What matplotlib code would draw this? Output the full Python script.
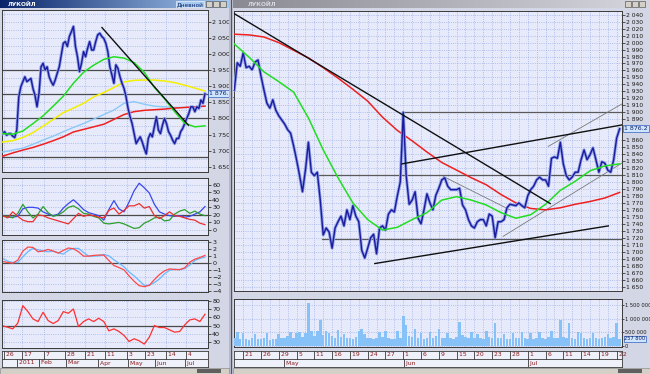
import numpy as np
import matplotlib.pyplot as plt
from matplotlib.patches import Rectangle
from matplotlib.colors import LinearSegmentedColormap
from matplotlib.ticker import FuncFormatter, MultipleLocator, FixedLocator
import matplotlib.transforms as mtransforms

W, H = 650, 374

# ---------------- daily window (left), x = bar index ----------------
left_close = [
    1753, 1759, 1748, 1753, 1753, 1745, 1741, 1764, 1867, 1898,
    1914, 1929, 1914, 1919, 1924, 1893, 1872, 1836, 1878, 1960,
    1971, 1950, 1960, 1929, 1914, 1903, 1919, 1940, 1960, 1997,
    2033, 2038, 2023, 2054, 2069, 2085, 2023, 1991, 1945, 1971,
    2007, 1991, 2017, 2038, 2012, 2012, 2038, 2059, 2064, 2054,
    2048, 2033, 2007, 1960, 1935, 1909, 1966, 1955, 1929, 1909,
    1893, 1867, 1831, 1805, 1784, 1753, 1722, 1733, 1743, 1727,
    1707, 1690, 1738, 1753, 1743, 1774, 1805, 1764, 1753, 1779,
    1800, 1784, 1759, 1748, 1733, 1722, 1738, 1738, 1759, 1769,
    1784, 1800, 1815, 1836, 1836, 1821, 1836, 1831, 1857, 1847,
    1876.2]
left_ma_x = np.arange(0, 101, 5)
left_green = [1753, 1751, 1761, 1784, 1808, 1838, 1869, 1909, 1943, 1965, 1983,
              1991, 1987, 1973, 1943, 1896, 1861, 1821, 1785, 1774, 1777]
left_yellow = [1727, 1731, 1741, 1756, 1776, 1797, 1818, 1832, 1847, 1867, 1880,
               1896, 1913, 1918, 1919, 1919, 1916, 1911, 1903, 1894, 1885]
left_lblue = [1696, 1702, 1708, 1720, 1733, 1745, 1759, 1772, 1784, 1798, 1812,
              1826, 1847, 1852, 1844, 1838, 1836, 1834, 1834, 1836, 1838]
left_red = [1683, 1693, 1702, 1710, 1720, 1731, 1743, 1758, 1766, 1774, 1782,
            1797, 1812, 1821, 1825, 1827, 1829, 1832, 1834, 1836, 1838]
left_trend_x = [49.1, 91.8]
left_trend_y = [2081.5, 1779.2]
left_levels = [1950, 1876.2, 1800, 1681]
left_ticks = [0.6, 9.7, 20.7, 31.0, 40.9, 50.7, 61.4, 70.4, 80.8, 90.6]
left_tick_labels = ["26", "17", "7", "28", "21", "11", "3", "23", "14", "4"]
left_months = [7.2, 17.9, 31.5, 47.1, 62.2, 75.4, 90.1]
left_month_labels = ["2011", "Feb", "Mar", "Apr", "May", "Jun", "Jul"]

ind_x = np.linspace(0, 100, 41)
adx_blue = [19, 17, 17, 18, 28, 30, 30, 29, 24, 21, 19, 21, 29, 35, 40, 34, 27, 23, 21, 19,
            13, 27, 39, 28, 24, 37, 52, 62, 56, 49, 34, 24, 21, 19, 18, 19, 17, 18, 21, 24, 31]
adx_red = [19, 16, 24, 18, 13, 11, 11, 20, 19, 16, 14, 12, 10, 8, 15, 22, 18, 20, 19, 17,
           16, 26, 29, 21, 26, 32, 32, 35, 29, 31, 19, 15, 19, 24, 19, 18, 16, 14, 13, 9, 7]
adx_green = [18, 18, 16, 22, 34, 24, 16, 21, 31, 23, 18, 20, 24, 30, 32, 28, 22, 21, 18, 16,
             9, 8, 9, 10, 8, 5, 2, 3, 9, 12, 16, 17, 12, 13, 21, 25, 27, 22, 25, 21, 19]
macd_line = [0.19, 0.05, -0.05, 0.38, 1.67, 2.24, 2.19, 1.57, 1.67, 1.90,
             1.67, 1.38, 1.76, 2.10, 2.00, 1.57, 0.95, 0.95, 1.05, 1.10,
             1.10, 0.33, -0.38, -0.67, -1.00, -1.86, -2.62, -3.24, -3.38, -3.19,
             -2.38, -1.67, -1.14, -0.86, -0.95, -0.95, -0.71, 0.10, 0.52, 0.76, 1.05]
macd_signal = [0.62, 0.24, 0.05, 0.05, 0.86, 1.57, 2.05, 1.86, 1.67, 1.57,
               1.67, 1.43, 1.24, 1.76, 2.05, 2.05, 1.48, 0.95, 0.95, 1.00,
               1.19, 1.00, 0.43, -0.05, -0.57, -1.29, -1.86, -2.52, -3.19, -3.19,
               -2.81, -2.29, -1.57, -1.05, -0.90, -1.00, -0.81, -0.33, 0.33, 0.62, 0.81]
rsi = [49.6, 48.0, 46.0, 52.8, 74.0, 66.8, 58.0, 54.8, 66.0, 56.0,
       52.4, 56.0, 66.8, 64.8, 70.0, 48.8, 54.8, 58.0, 54.8, 58.8,
       54.8, 43.6, 46.0, 42.8, 38.0, 30.8, 34.0, 31.6, 27.6, 36.0,
       50.0, 47.6, 47.6, 44.8, 42.0, 42.8, 50.8, 56.8, 58.0, 54.8, 63.6]

# ---------------- hourly window (right), x = bar index ----------------
right_close = [
    1932, 1971, 1966, 1985, 1964, 1966, 1961, 1972, 1975, 1952,
    1932, 1913, 1906, 1918, 1903, 1895, 1889, 1883, 1875, 1870,
    1852, 1832, 1810, 1786, 1817, 1857, 1814, 1809, 1814, 1774,
    1724, 1734, 1728, 1705, 1734, 1743, 1751, 1737, 1760, 1746,
    1766, 1751, 1743, 1702, 1691, 1705, 1720, 1725, 1697, 1734,
    1737, 1731, 1754, 1760, 1757, 1780, 1800, 1900, 1809, 1768,
    1774, 1786, 1748, 1740, 1760, 1783, 1770, 1760, 1781, 1791,
    1803, 1806, 1794, 1789, 1789, 1789, 1791, 1767, 1760, 1746,
    1737, 1734, 1743, 1746, 1746, 1737, 1754, 1751, 1720, 1743,
    1743, 1746, 1763, 1768, 1767, 1766, 1770, 1766, 1763, 1780,
    1789, 1794, 1803, 1807, 1803, 1803, 1794, 1834, 1836, 1834,
    1857, 1826, 1809, 1803, 1807, 1814, 1814, 1832, 1846, 1832,
    1839, 1849, 1832, 1814, 1829, 1827, 1817, 1814, 1832, 1863,
    1876.2]
right_ma_x = np.arange(0, 131, 5)
right_green = [1998, 1979, 1958, 1944, 1929, 1892, 1846, 1806, 1770, 1746, 1731, 1735, 1746, 1756,
               1774, 1779, 1774, 1767, 1756, 1748, 1753, 1768, 1788, 1801, 1816, 1823, 1826]
right_red = [2012, 2011, 2008, 2000, 1989, 1978, 1964, 1949, 1933, 1916, 1893, 1874, 1859, 1843,
             1828, 1817, 1806, 1796, 1782, 1770, 1762, 1760, 1763, 1768, 1772, 1777, 1785]
right_volume = [  # thousands of shares
    300, 500, 250, 480, 260, 220, 300, 450, 240, 260,
    280, 470, 230, 250, 260, 450, 300, 280, 350, 520,
    300, 480, 500, 320, 470, 1560, 540, 380, 560, 950,
    400, 560, 470, 350, 300, 580, 320, 450, 280, 300,
    260, 320, 560, 620, 450, 300, 280, 260, 300, 500,
    320, 540, 300, 250, 240, 560, 300, 1080, 780, 350,
    320, 640, 300, 480, 260, 280, 520, 300, 350, 640,
    300, 280, 460, 300, 260, 320, 880, 400, 320, 300,
    500, 300, 450, 280, 260, 540, 320, 300, 850, 300,
    280, 450, 260, 240, 470, 300, 280, 500, 300, 260,
    460, 240, 280, 500, 300, 260, 320, 540, 300, 280,
    950, 320, 300, 830, 300, 260, 500, 480, 300, 260,
    280, 460, 300, 260, 280, 320, 440, 300, 320, 850,
    257.8]
right_black_lines = [([-0.2, 106.6], [2042, 1769]),
                     ([56.6, 131.0], [1826, 1882]),
                     ([47.4, 126.2], [1683, 1737])]
right_thin_lines = [([70.5, 93.0], [1808, 1760]),
                    ([90.7, 130.7], [1722, 1827]),
                    ([105.9, 131.2], [1851, 1913])]
right_levels = [(56.6, 1900), (27.9, 1810), (29.6, 1718)]
right_ticks = np.arange(3, 130, 6)
right_tick_labels = ["21", "26", "29", "5", "11", "16", "19", "24", "27", "1", "6",
                     "9", "15", "20", "23", "28", "1", "6", "11", "14", "19", "22"]
right_months = [16.8, 57.3, 99.2]
right_month_labels = ["May", "Jun", "Jul"]
right_price_ticks = [v for v in range(1650, 2041, 10) if v not in (1870, 1880)]

BG = "#e6eafa"
FRAME = "#d3d6e4"
GRID = "#9fb0e6"
EDGE = "#3a3a3a"
DATE_TXT = "#8b1c1c"
PRICE = "#1b1b9e"
PRICE_HALO = "#8c9ce6"

fig = plt.figure(figsize=(6.5, 3.74), dpi=100, facecolor=FRAME)


def add_px(x0, y0, x1, y1):
    return fig.add_axes([x0 / W, 1 - y1 / H, (x1 - x0) / W, (y1 - y0) / H])


def spaced(v, pos=None):
    return f"{v:,.0f}".replace(",", " ")


def style_panel(ax, xlim, ylim, yticks, xgrid, xminor=None, fmt=None, size=4.6):
    ax.set_facecolor(BG)
    ax.set_xlim(*xlim)
    ax.set_ylim(*ylim)
    ax.yaxis.tick_right()
    ax.set_yticks(yticks)
    if fmt is not None:
        ax.yaxis.set_major_formatter(FuncFormatter(fmt))
    ax.set_xticks(xgrid)
    if xminor is not None:
        ax.xaxis.set_minor_locator(FixedLocator(xminor))
    ax.tick_params(axis="x", which="both", length=0, labelbottom=False)
    ax.tick_params(axis="y", which="major", length=2, width=0.5, labelsize=size,
                   pad=1, colors="#1a1a1a")
    ax.tick_params(axis="y", which="minor", length=0)
    ax.grid(True, which="both", color=GRID, ls=":", lw=0.6)
    ax.set_axisbelow(True)
    for s in ax.spines.values():
        s.set_color(EDGE)
        s.set_linewidth(0.7)


def marker(ax, y, text, size=4.5):
    tr = mtransforms.blended_transform_factory(ax.transAxes, ax.transData)
    ax.text(1.006, y, text, transform=tr, fontsize=size, va="center", ha="left",
            color="#102060", clip_on=False, zorder=10,
            bbox=dict(boxstyle="square,pad=0.15", fc="#cfe4ff", ec="#3060c0", lw=0.5))


def date_axis(rect, xlim, ticks, labels, months, mlabels):
    ax = add_px(*rect)
    ax.set_facecolor("#eef0fa")
    ax.set_xlim(*xlim)
    ax.set_ylim(0, 2)
    ax.set_xticks([])
    ax.set_yticks([])
    ax.axhline(1, color=EDGE, lw=0.6)
    for t, lab in zip(ticks, labels):
        ax.plot([t, t], [1, 2], color=EDGE, lw=0.6)
        ax.text(t, 1.5, " " + lab, fontsize=4.4, color=DATE_TXT, ha="left", va="center")
    for t, lab in zip(months, mlabels):
        ax.plot([t, t], [0, 1], color=EDGE, lw=0.6)
        ax.text(t, 0.5, " " + lab, fontsize=4.4, color=DATE_TXT, ha="left", va="center")
    for s in ax.spines.values():
        s.set_color(EDGE)
        s.set_linewidth(0.6)
    return ax


def title_bar(rect, colors, left_text, right_text, txt_color):
    ax = add_px(*rect)
    cm = LinearSegmentedColormap.from_list("tb", colors)
    ax.imshow(np.linspace(0, 1, 256)[None, :], aspect="auto", cmap=cm, extent=(0, 1, 0, 1))
    ax.set_xlim(0, 1)
    ax.set_ylim(0, 1)
    ax.set_axis_off()
    ax.text(0.035, 0.45, left_text, fontsize=4.2, color=txt_color, va="center", fontweight="bold")
    span = 9.0 / (rect[2] - rect[0])
    for k in range(3):
        x0 = 1 - (3 - k) * span * 0.78 - 0.01
        ax.add_patch(Rectangle((x0, 0.12), span * 0.7, 0.76, fc="#d4d0c8", ec="#404040", lw=0.4))
    if right_text:
        ax.text(1 - 3 * span * 0.78 - 0.02, 0.45, right_text, fontsize=4.2, color="#0a246a",
                va="center", ha="right",
                bbox=dict(boxstyle="square,pad=0.1", fc="#a6caf0", ec="#ffffff", lw=0.4))
    return ax


# ---- window frames ----
fig.patches.append(Rectangle((229 / W, 0), 4 / W, 1, transform=fig.transFigure,
                             fc="#b4b8c8", ec="none", zorder=0))
fig.patches.append(Rectangle((231 / W, 0), 1 / W, 1, transform=fig.transFigure,
                             fc="#555555", ec="none", zorder=0))

# ---- left main price chart ----
ax = add_px(2, 10, 208, 172)
left_x = np.arange(len(left_close))
style_panel(ax, (-0.3, 101.5), (1634, 2136), np.arange(1650, 2101, 50), left_ticks,
            fmt=spaced)
ax.yaxis.set_minor_locator(MultipleLocator(25))
for lv in left_levels:
    ax.axhline(lv, color="#4a4a4a", lw=0.9, zorder=2)
ax.plot(left_ma_x, left_lblue, color="#8cc8f8", lw=1.0, zorder=3)
ax.plot(left_ma_x, left_red, color="#ee2020", lw=1.1, zorder=3)
ax.plot(left_ma_x, left_yellow, color="#f4f000", lw=1.1, zorder=3)
ax.plot(left_x, left_close, color=PRICE_HALO, lw=2.2, zorder=4)
ax.plot(left_x, left_close, color=PRICE, lw=1.0, zorder=5)
ax.plot(left_ma_x, left_green, color="#22dd22", lw=1.1, zorder=6)
ax.plot(left_trend_x, left_trend_y, color="#101010", lw=1.0, zorder=7)
marker(ax, left_close[-1], "1 876.2")

# ---- left indicator: DMI ----
ax = add_px(2, 178, 208, 235)
style_panel(ax, (-0.3, 101.5), (-6.7, 68.9), np.arange(0, 61, 10), left_ticks)
ax.axhline(20, color="#4a4a4a", lw=0.9)
ax.plot(ind_x, adx_blue, color="#3a48f0", lw=0.9)
ax.plot(ind_x, adx_green, color="#2e9e2e", lw=0.9)
ax.plot(ind_x, adx_red, color="#ee3030", lw=0.9)

# ---- left indicator: MACD ----
ax = add_px(2, 240, 208, 292)
style_panel(ax, (-0.3, 101.5), (-4.14, 3.24), np.arange(-4, 4, 1), left_ticks)
ax.axhline(0, color="#4a4a4a", lw=0.9)
ax.plot(ind_x, macd_signal, color="#6ab8ff", lw=0.9)
ax.plot(ind_x, macd_line, color="#ff4848", lw=0.9)

# ---- left indicator: RSI ----
ax = add_px(2, 300, 208, 348)
style_panel(ax, (-0.3, 101.5), (22.9, 80.8), np.arange(30, 81, 10), left_ticks)
ax.axhline(50, color="#4a4a4a", lw=0.9)
ax.plot(ind_x, rsi, color="#ff3030", lw=0.9)

date_axis((2, 351, 208, 367), (-0.3, 101.5), left_ticks, left_tick_labels,
          left_months, left_month_labels)

# ---- right main price chart ----
ax = add_px(234, 11, 622, 291)
right_x = np.arange(len(right_close))
style_panel(ax, (-0.1, 130.8), (1643.6, 2045.3), right_price_ticks, right_ticks,
            xminor=right_ticks - 3, fmt=spaced, size=4.3)
for x0, lv in right_levels:
    ax.plot([x0, 131], [lv, lv], color="#5a5a5a", lw=0.9, zorder=2)
for xs, ys in right_thin_lines:
    ax.plot(xs, ys, color="#7a7a7a", lw=0.6, zorder=2)
ax.plot(right_ma_x, right_red, color="#ee2020", lw=1.1, zorder=3)
ax.plot(right_x, right_close, color=PRICE_HALO, lw=2.2, zorder=4)
ax.plot(right_x, right_close, color=PRICE, lw=1.0, zorder=5)
ax.plot(right_ma_x, right_green, color="#22dd22", lw=1.1, zorder=6)
for xs, ys in right_black_lines:
    ax.plot(xs, ys, color="#101010", lw=1.0, zorder=7)
marker(ax, right_close[-1], "1 876.2")

# ---- right volume ----
ax = add_px(234, 299, 622, 347)
style_panel(ax, (-0.1, 130.8), (-37, 1720), [0, 500, 1000, 1500], right_ticks,
            xminor=right_ticks - 3, fmt=lambda v, p: spaced(v * 1000), size=3.7)
ax.tick_params(axis="y", pad=0.5, length=1.5)
ax.bar(right_x, right_volume, width=0.85, color="#86c2f8", edgecolor="none", zorder=3)
marker(ax, right_volume[-1], spaced(right_volume[-1] * 1000), size=3.7)

date_axis((234, 351, 622, 367), (-0.1, 130.8), right_ticks, right_tick_labels,
          right_months, right_month_labels)

# ---- title bars ----
title_bar((0, 0, 229, 8), ["#0a246a", "#a6caf0"], "ЛУКОЙЛ", "Дневной", "white")
title_bar((233, 0, 650, 8), ["#8a8a92", "#d6d6de"], "ЛУКОЙЛ", "", "#d8d8e0")

# ---- scroll bars ----
for x0, x1 in [(0, 229), (233, 650)]:
    fig.patches.append(Rectangle((x0 / W, 0), (x1 - x0) / W, 6 / H, transform=fig.transFigure,
                                 fc="#d4d0c8", ec="#808080", lw=0.4, zorder=1))
    fig.patches.append(Rectangle(((x1 - 32) / W, 1 / H), 24 / W, 4 / H,
                                 transform=fig.transFigure, fc="#606060", ec="none", zorder=2))

fig.savefig("out.png", dpi=100, facecolor=FRAME)
